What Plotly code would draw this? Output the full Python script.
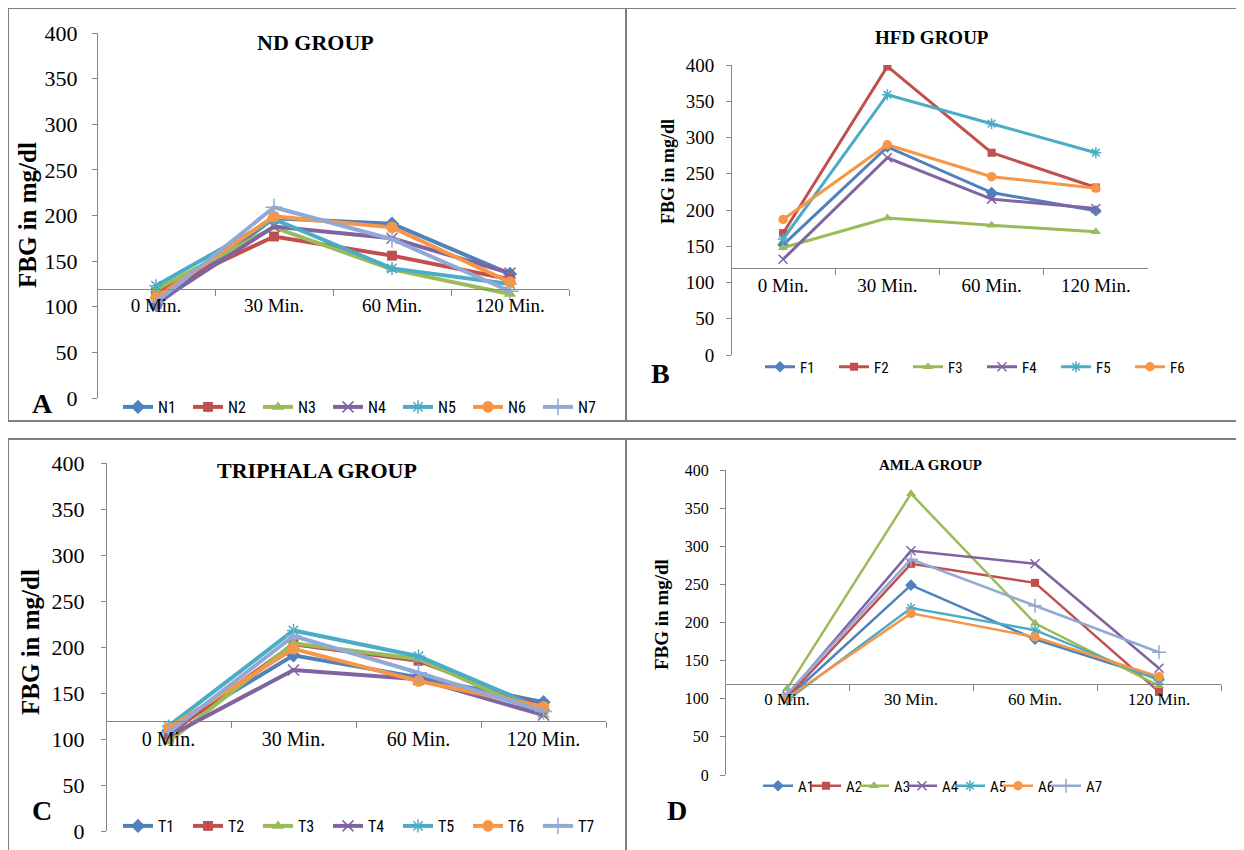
import plotly.graph_objects as go

# ---------------- data ----------------
categories = ["0 Min.", "30 Min.", "60 Min.", "120 Min."]

# ND group
nd_names = ["N1", "N2", "N3", "N4", "N5", "N6", "N7"]
N1 = [102, 197, 191, 136]
N2 = [116, 177, 156, 130]
N3 = [119, 187, 141, 114]
N4 = [104, 188, 175, 137]
N5 = [123, 196, 142, 125]
N6 = [110, 199, 187, 127]
N7 = [105, 209, 174, 117]
nd_values = [N1, N2, N3, N4, N5, N6, N7]

# HFD group
hfd_names = ["F1", "F2", "F3", "F4", "F5", "F6"]
F1 = [152, 287, 224, 199]
F2 = [168, 398, 279, 231]
F3 = [148, 189, 179, 170]
F4 = [132, 272, 215, 202]
F5 = [160, 359, 319, 279]
F6 = [187, 290, 246, 230]
hfd_values = [F1, F2, F3, F4, F5, F6]

# Triphala group
tri_names = ["T1", "T2", "T3", "T4", "T5", "T6", "T7"]
T1 = [109, 191, 167, 140]
T2 = [105, 203, 185, 134]
T3 = [97, 204, 187, 126]
T4 = [103, 175, 165, 126]
T5 = [114, 218, 190, 132]
T6 = [112, 198, 163, 135]
T7 = [107, 212, 172, 130]
tri_values = [T1, T2, T3, T4, T5, T6, T7]

# Amla group
amla_names = ["A1", "A2", "A3", "A4", "A5", "A6", "A7"]
A1 = [100, 249, 178, 126]
A2 = [101, 277, 252, 109]
A3 = [113, 369, 199, 117]
A4 = [104, 294, 277, 140]
A5 = [98, 219, 190, 124]
A6 = [101, 212, 181, 129]
A7 = [106, 283, 222, 161]
amla_values = [A1, A2, A3, A4, A5, A6, A7]

y_ticks = [0, 50, 100, 150, 200, 250, 300, 350, 400]
axis_cross = 120

# ---------------- styles ----------------
W, H = 1244, 850
OFF = 8  # page body margin in the browser
colors = ["#4F81BD", "#C0504D", "#9BBB59", "#8064A2", "#4BACC6", "#F79646", "#93A9D5"]
symbols = ["diamond", "square", "triangle-up", "x-thin-open", "asterisk-open", "circle", "cross-thin-open"]
sym_scale = [1.0, 0.9, 1.0, 1.0, 1.0, 1.05, 1.1]
SERIF = "Liberation Serif, Times New Roman, serif"
SANS = "Liberation Sans Narrow, Roboto Condensed, Arial Narrow, Liberation Sans, sans-serif"


def fx(px):
    return (px - OFF) / W


def fy(py):
    return 1 - (py - OFF) / H


panels = [
    dict(names=nd_names, values=nd_values, title="ND GROUP", title_xy=(315, 42), title_size=22,
         x0=97, x1=569, ybot=398, ytop=33, tick_size=22, xtick_size=19, lw=4, ms=11,
         ylab_xy=(27, 215), ylab_size=25, leg_xy=(118, 407), leg_w=25, leg_size=16,
         letter="A", letter_xy=(42, 403), standoff=10),
    dict(names=hfd_names, values=hfd_values, title="HFD GROUP", title_xy=(932, 38), title_size=19,
         x0=731, x1=1148, ybot=355, ytop=65, tick_size=19, xtick_size=19, lw=3, ms=9,
         ylab_xy=(668, 172), ylab_size=18, leg_xy=(760, 367), leg_w=29, leg_size=15,
         letter="B", letter_xy=(660, 373), standoff=8),
    dict(names=tri_names, values=tri_values, title="TRIPHALA GROUP", title_xy=(317, 470), title_size=22,
         x0=106, x1=606, ybot=831, ytop=463, tick_size=22, xtick_size=20, lw=4, ms=11,
         ylab_xy=(30, 642), ylab_size=25, leg_xy=(118, 826), leg_w=25, leg_size=16,
         letter="C", letter_xy=(42, 810), standoff=12),
    dict(names=amla_names, values=amla_values, title="AMLA GROUP", title_xy=(930, 465), title_size=15,
         x0=725, x1=1221, ybot=775, ytop=470, tick_size=16, xtick_size=17, lw=2.5, ms=9,
         ylab_xy=(661, 615), ylab_size=19, leg_xy=(758, 786), leg_w=3, leg_size=15,
         letter="D", letter_xy=(677, 810), standoff=8),
]

fig = go.Figure()
layout = dict(width=W, height=H, margin=dict(l=0, r=0, t=0, b=0, autoexpand=False),
              paper_bgcolor="white", plot_bgcolor="rgba(0,0,0,0)",
              annotations=[], shapes=[])

for i, p in enumerate(panels):
    n = i + 1
    xa = "x" if n == 1 else f"x{n}"
    ya = "y" if n == 1 else f"y{n}"
    leg = "legend" if n == 1 else f"legend{n}"
    for j, (name, vals) in enumerate(zip(p["names"], p["values"])):
        sym = symbols[j]
        open_sym = sym.endswith("-open")
        fig.add_trace(go.Scatter(
            x=categories, y=vals, name=name, mode="lines+markers",
            xaxis=xa, yaxis=ya, legend=leg,
            line=dict(color=colors[j], width=p["lw"]),
            marker=dict(symbol=sym, size=p["ms"] * sym_scale[j], color=colors[j],
                        line=dict(color=colors[j], width=1.5 if open_sym else 0)),
        ))
    # blank spacer entry so the last legend label is not clipped
    fig.add_trace(go.Scatter(x=[None], y=[None], name=" ", mode="lines", xaxis=xa, yaxis=ya,
                             legend=leg, line=dict(color="rgba(0,0,0,0)", width=0),
                             hoverinfo="skip", showlegend=True))
    ydom = [fy(p["ybot"]), fy(p["ytop"])]
    cross_py = p["ybot"] - (p["ybot"] - p["ytop"]) * axis_cross / 400
    layout["xaxis" if n == 1 else f"xaxis{n}"] = dict(
        domain=[fx(p["x0"]), fx(p["x1"])], type="category", range=[-0.5, 3.5],
        anchor="free", position=fy(cross_py), showline=True, linecolor="#868686",
        linewidth=1, ticks="outside", ticklen=6, tickcolor="#868686", tickson="boundaries",
        showgrid=False, zeroline=False, fixedrange=True,
        tickfont=dict(family=SERIF, size=p["xtick_size"], color="black"))
    layout["yaxis" if n == 1 else f"yaxis{n}"] = dict(
        domain=ydom, range=[0, 400], tickvals=y_ticks, anchor="free", position=fx(p["x0"]),
        showline=True, linecolor="#868686", linewidth=1, ticks="outside", ticklen=5,
        tickcolor="#868686", showgrid=False, zeroline=False, fixedrange=True,
        ticklabelstandoff=p["standoff"],
        tickfont=dict(family=SERIF, size=p["tick_size"], color="black"))
    layout[leg] = dict(orientation="h", x=fx(p["leg_xy"][0]), y=fy(p["leg_xy"][1]),
                       xanchor="left", yanchor="middle", entrywidth=p["leg_w"],
                       entrywidthmode="pixels", bgcolor="rgba(0,0,0,0)", borderwidth=0,
                       font=dict(family=SANS, size=p["leg_size"], color="black"),
                       itemwidth=30, tracegroupgap=0)
    layout["annotations"].append(dict(
        text=f"<b>{p['title']}</b>", x=fx(p["title_xy"][0]), y=fy(p["title_xy"][1]),
        xref="paper", yref="paper", showarrow=False, xanchor="center", yanchor="middle",
        font=dict(family=SERIF, size=p["title_size"], color="black")))
    layout["annotations"].append(dict(
        text="<b>FBG in mg/dl</b>", x=fx(p["ylab_xy"][0]), y=fy(p["ylab_xy"][1]),
        xref="paper", yref="paper", showarrow=False, textangle=-90,
        xanchor="center", yanchor="middle",
        font=dict(family=SERIF, size=p["ylab_size"], color="black")))
    layout["annotations"].append(dict(
        text=f"<b>{p['letter']}</b>", x=fx(p["letter_xy"][0]), y=fy(p["letter_xy"][1]),
        xref="paper", yref="paper", showarrow=False, xanchor="center", yanchor="middle",
        font=dict(family=SERIF, size=28, color="black")))

# panel borders
border = dict(color="#808080", width=2)
for (bx0, by0, bx1, by1) in [(8, 8, 626, 421), (626, 8, 1260, 421),
                             (8, 439, 626, 870), (626, 439, 1260, 870)]:
    layout["shapes"].append(dict(type="rect", xref="paper", yref="paper",
                                 x0=fx(bx0), x1=fx(bx1), y0=fy(by1), y1=fy(by0),
                                 line=border, fillcolor="rgba(0,0,0,0)", layer="below"))

fig.update_layout(**layout)
fig.write_html("out.html")
